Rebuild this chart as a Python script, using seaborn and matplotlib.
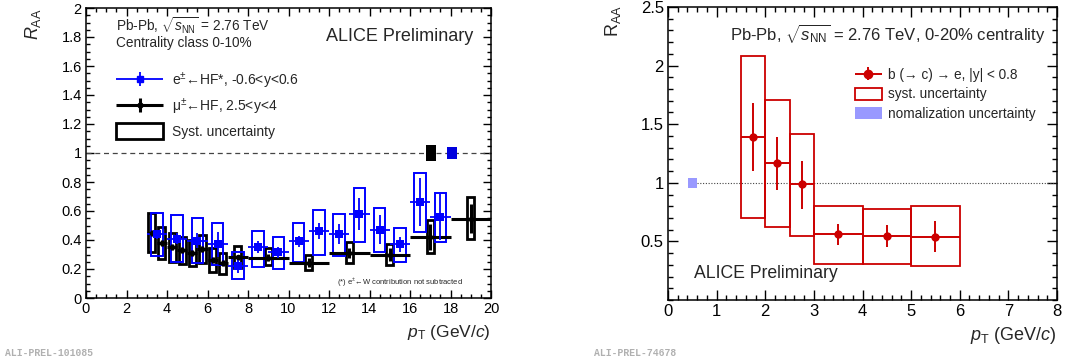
import numpy as np
import matplotlib
matplotlib.use("Agg")
import matplotlib.pyplot as plt
import seaborn as sns
import pandas as pd
from matplotlib.patches import Patch
from matplotlib.ticker import MultipleLocator, FuncFormatter
from matplotlib.container import ErrorbarContainer
from matplotlib.legend_handler import HandlerErrorbar

# ---------------- left panel data: HF electrons (blue) ----------------
e_pt = [3.5, 4.5, 5.5, 6.5, 7.5, 8.5, 9.5, 10.5, 11.5, 12.5, 13.5, 14.5, 15.5, 16.5, 17.5]
e_raa = [0.44, 0.41, 0.395, 0.37, 0.22, 0.35, 0.315, 0.39, 0.46, 0.44, 0.58, 0.47, 0.37, 0.66, 0.56]
e_stat = [0.03, 0.04, 0.05, 0.085, 0.045, 0.04, 0.04, 0.04, 0.055, 0.07, 0.11, 0.10, 0.05, 0.165, 0.16]
e_sys_lo = [0.292, 0.246, 0.24, 0.228, 0.129, 0.216, 0.202, 0.25, 0.30, 0.29, 0.388, 0.32, 0.246, 0.453, 0.384]
e_sys_hi = [0.588, 0.57, 0.55, 0.515, 0.315, 0.464, 0.423, 0.515, 0.605, 0.577, 0.757, 0.62, 0.48, 0.864, 0.726]
e_xerr = [0.5] * 15

# ---------------- left panel data: HF muons (black) ----------------
mu_pt = [3.25, 3.75, 4.25, 4.75, 5.25, 5.75, 6.25, 6.75, 7.5, 9, 11, 13, 15, 17, 19]
mu_xerr = [0.25] * 8 + [0.5] + [1.0] * 6
mu_raa = [0.446, 0.38, 0.35, 0.33, 0.31, 0.338, 0.262, 0.24, 0.28, 0.278, 0.244, 0.308, 0.30, 0.423, 0.547]
mu_stat = [0.02, 0.02, 0.02, 0.02, 0.02, 0.02, 0.02, 0.02, 0.02, 0.025, 0.03, 0.035, 0.045, 0.09, 0.10]
mu_sys_lo = [0.315, 0.267, 0.246, 0.235, 0.22, 0.24, 0.181, 0.166, 0.21, 0.228, 0.193, 0.241, 0.228, 0.308, 0.407]
mu_sys_hi = [0.588, 0.49, 0.446, 0.42, 0.40, 0.434, 0.343, 0.308, 0.36, 0.343, 0.30, 0.384, 0.374, 0.536, 0.70]

# normalisation boxes at unity (left)
norm_left_x = [17.05, 18.06]
norm_left_lo = [0.945, 0.957]
norm_left_hi = [1.057, 1.043]
norm_left_col = ["black", "#0000dd"]

# ---------------- right panel data: b -> e ----------------
b_pt = [1.75, 2.25, 2.75, 3.5, 4.5, 5.5]
b_xerr = [0.25, 0.25, 0.25, 0.5, 0.5, 0.5]
b_raa = [1.39, 1.17, 0.99, 0.56, 0.55, 0.54]
b_stat_lo = [1.10, 0.94, 0.78, 0.47, 0.45, 0.41]
b_stat_hi = [1.68, 1.39, 1.19, 0.65, 0.64, 0.67]
b_sys_lo = [0.70, 0.62, 0.55, 0.31, 0.31, 0.29]
b_sys_hi = [2.08, 1.71, 1.42, 0.80, 0.78, 0.80]
b_norm_x = [0.5]
b_norm_lo = [0.956]
b_norm_hi = [1.044]

# ---------------- style ----------------
sns.set_theme(style="ticks")
plt.rcParams["font.family"] = ["Liberation Sans", "DejaVu Sans"]
plt.rcParams["mathtext.fontset"] = "custom"
plt.rcParams["mathtext.rm"] = "Liberation Sans"
plt.rcParams["mathtext.it"] = "Liberation Sans:italic"
plt.rcParams["mathtext.bf"] = "Liberation Sans:bold"
plt.rcParams["axes.linewidth"] = 1.1

BLUE = "#0000ff"
RED = "#cc0000"

fig = plt.figure(figsize=(10.88, 3.64), dpi=100)
axL = fig.add_axes([86 / 1088, 1 - 298 / 364, 405 / 1088, 290 / 364])
axR = fig.add_axes([668 / 1088, 1 - 300 / 364, 389 / 1088, 293 / 364])

fmt_g = FuncFormatter(lambda v, p: "%g" % round(v, 3))


def style_axis(ax, xmaj, xmin, ymaj, ymin, fs, majlen, minlen):
    ax.xaxis.set_major_locator(MultipleLocator(xmaj))
    ax.xaxis.set_minor_locator(MultipleLocator(xmin))
    ax.yaxis.set_minor_locator(MultipleLocator(ymin))
    ax.xaxis.set_major_formatter(fmt_g)
    ax.yaxis.set_major_formatter(fmt_g)
    ax.tick_params(which="both", direction="in", top=True, right=True,
                   colors="black", width=1.0)
    ax.tick_params(which="major", length=majlen, labelsize=fs, pad=3)
    ax.tick_params(which="minor", length=minlen)
    for s in ax.spines.values():
        s.set_color("black")
        s.set_linewidth(1.1)
    ax.set_facecolor("white")
    ax.grid(False)


# ================= LEFT PANEL =================
ax = axL
df_e = pd.DataFrame({"pt": e_pt, "raa": e_raa})
df_mu = pd.DataFrame({"pt": mu_pt, "raa": mu_raa})

ax.axhline(1.0, color="#444444", lw=0.9, ls=(0, (4, 3)), zorder=1)

# systematic boxes
ax.bar(mu_pt, np.array(mu_sys_hi) - np.array(mu_sys_lo), bottom=mu_sys_lo,
       width=0.34, fill=False, edgecolor="black", linewidth=2.0, zorder=2)
ax.bar(e_pt, np.array(e_sys_hi) - np.array(e_sys_lo), bottom=e_sys_lo,
       width=0.56, fill=False, edgecolor=BLUE, linewidth=1.4, zorder=3)

# normalisation boxes
for x, lo, hi, c in zip(norm_left_x, norm_left_lo, norm_left_hi, norm_left_col):
    ax.bar([x], [hi - lo], bottom=[lo], width=0.48, color=c, edgecolor="none", zorder=3)

# stat errors
ax.errorbar(mu_pt, mu_raa, xerr=mu_xerr, yerr=mu_stat, fmt="none",
            ecolor="black", elinewidth=2.2, capsize=0, zorder=4)
ax.errorbar(e_pt, e_raa, xerr=e_xerr, yerr=e_stat, fmt="none",
            ecolor=BLUE, elinewidth=1.3, capsize=0, zorder=5)

sns.scatterplot(data=df_mu, x="pt", y="raa", ax=ax, marker="o", s=16,
                color="black", edgecolor="black", linewidth=0, zorder=6, legend=False)
sns.scatterplot(data=df_e, x="pt", y="raa", ax=ax, marker="s", s=26,
                color=BLUE, edgecolor=BLUE, linewidth=0, zorder=7, legend=False)

ax.set_xlim(0, 20)
ax.set_ylim(0, 2)
style_axis(ax, 2, 0.5, 0.2, 0.05, 10.5, 6, 3)
ax.yaxis.set_major_locator(MultipleLocator(0.2))
ax.set_xlabel("")
ax.set_ylabel("")

# legend handles
h_e = ax.errorbar([np.nan], [np.nan], xerr=[0.5], yerr=[0.1], fmt="s", color=BLUE,
                  markersize=5, elinewidth=1.3, capsize=0)
h_mu = ax.errorbar([np.nan], [np.nan], xerr=[0.5], yerr=[0.1], fmt="o", color="black",
                   markersize=3.5, elinewidth=2.2, capsize=0)
h_sys = Patch(facecolor="none", edgecolor="black", linewidth=2.0)
legL = ax.legend([h_e, h_mu, h_sys],
                 ["e$^{\\pm}$\u2190HF*, -0.6<y<0.6", "\u03bc$^{\\pm}$\u2190HF, 2.5<y<4",
                  "Syst. uncertainty"],
                 loc="upper left", bbox_to_anchor=(0.074, 0.785), frameon=False,
                 fontsize=10, handlelength=3.4, handleheight=1.35, labelspacing=0.45,
                 handletextpad=0.6, borderpad=0, borderaxespad=0,
                 handler_map={ErrorbarContainer: HandlerErrorbar(xerr_size=1.7, yerr_size=0.5)})

ax.text(0.074, 0.975, "Pb-Pb, $\\sqrt{s_{\\rm NN}}$ = 2.76 TeV", transform=ax.transAxes,
        ha="left", va="top", fontsize=9.8)
ax.text(0.074, 0.905, "Centrality class 0-10%", transform=ax.transAxes,
        ha="left", va="top", fontsize=9.8)
ax.text(0.957, 0.903, "ALICE Preliminary", transform=ax.transAxes,
        ha="right", va="center", fontsize=13)
ax.text(0.775, 0.052, "(*) e$^{\\pm}$\u2190W contribution not subtracted", transform=ax.transAxes,
        ha="center", va="center", fontsize=5.5)

fig.text(33 / 1088, 1 - 8 / 364, "$R_{\\rm AA}$", rotation=90, ha="center", va="top", fontsize=13)
fig.text(491 / 1088, 1 - 332 / 364, "$p_{\\rm T}$ (GeV/$c$)", ha="right", va="center", fontsize=12.5)

# ================= RIGHT PANEL =================
ax = axR
df_b = pd.DataFrame({"pt": b_pt, "raa": b_raa})
ax.plot([0.6, 8], [1, 1], color="#444444", lw=0.8, ls=(0, (1, 1.5)), zorder=1)

ax.bar(b_pt, np.array(b_sys_hi) - np.array(b_sys_lo), bottom=b_sys_lo,
       width=2 * np.array(b_xerr), fill=False, edgecolor=RED, linewidth=1.3, zorder=2)
ax.bar(b_norm_x, np.array(b_norm_hi) - np.array(b_norm_lo), bottom=b_norm_lo,
       width=0.18, color="#9999ff", edgecolor="none", zorder=2)

b_lo = np.array(b_raa) - np.array(b_stat_lo)
b_hi = np.array(b_stat_hi) - np.array(b_raa)
ax.errorbar(b_pt, b_raa, xerr=b_xerr, yerr=[b_lo, b_hi], fmt="none",
            ecolor=RED, elinewidth=1.4, capsize=0, zorder=4)
sns.scatterplot(data=df_b, x="pt", y="raa", ax=ax, marker="o", s=36,
                color=RED, edgecolor=RED, linewidth=0, zorder=5, legend=False)

ax.set_xlim(0, 8)
ax.set_ylim(0, 2.5)
style_axis(ax, 1, 0.2, 0.5, 0.1, 12, 7, 3.5)
ax.set_yticks([0.5, 1, 1.5, 2, 2.5])
ax.set_xlabel("")
ax.set_ylabel("")

h_b = ax.errorbar([np.nan], [np.nan], xerr=[0.5], yerr=[0.1], fmt="o", color=RED,
                  markersize=6, elinewidth=1.4, capsize=0)
h_bsys = Patch(facecolor="none", edgecolor=RED, linewidth=1.3)
h_bnorm = Patch(facecolor="#9999ff", edgecolor="none")
ax.legend([h_b, h_bsys, h_bnorm],
          ["b (\u2192 c) \u2192 e, |y| < 0.8", "syst. uncertainty", "nomalization uncertainty"],
          loc="upper left", bbox_to_anchor=(0.48, 0.792), frameon=False,
          fontsize=9.8, handlelength=2.0, handleheight=1.0, labelspacing=0.4,
          handletextpad=0.45, borderpad=0, borderaxespad=0,
          handler_map={ErrorbarContainer: HandlerErrorbar(xerr_size=1.0, yerr_size=0.45)})

ax.text(0.97, 0.905, "Pb-Pb, $\\sqrt{s_{\\rm NN}}$ = 2.76 TeV, 0-20% centrality",
        transform=ax.transAxes, ha="right", va="center", fontsize=12)
ax.text(0.067, 0.089, "ALICE Preliminary", transform=ax.transAxes,
        ha="left", va="center", fontsize=12.7)

fig.text(613 / 1088, 1 - 5 / 364, "R$_{\\rm AA}$", rotation=90, ha="center", va="top", fontsize=13)
fig.text(1057 / 1088, 1 - 336 / 364, "$p_{\\rm T}$ (GeV/$c$)", ha="right", va="center", fontsize=13)

# preliminary IDs
fig.text(5 / 1088, 1 - 353 / 364, "ALI-PREL-101085", ha="left", va="center",
         fontsize=7, family="Liberation Mono", color="#b0b0b0", weight="bold")
fig.text(594 / 1088, 1 - 353 / 364, "ALI-PREL-74678", ha="left", va="center",
         fontsize=7, family="Liberation Mono", color="#b0b0b0", weight="bold")

fig.savefig("out.png", dpi=100, facecolor="white")
